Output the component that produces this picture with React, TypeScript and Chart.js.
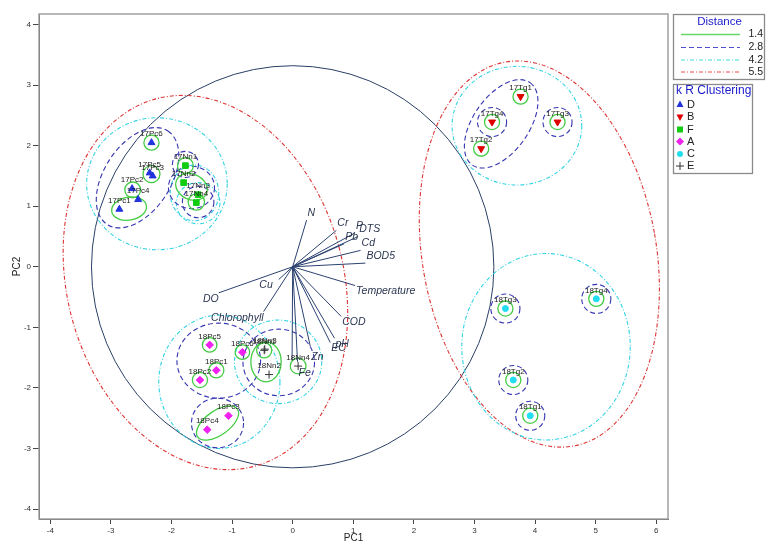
import React, { useEffect, useRef } from 'react';
import { Chart, registerables } from 'chart.js';

Chart.register(...registerables);

// ---------- data ----------
const sampleNames = ['17Pc1','17Pc2','17Pc3','17Pc4','17Pc5','17Pc6','17Nn1','17Nn2','17Nn3','17Nn4','17Tg1','17Tg2','17Tg3','17Tg4','18Pc1','18Pc2','18Pc3','18Pc4','18Pc5','18Pc6','18Nn1','18Nn2','18Nn3','18Nn4','18Tg1','18Tg2','18Tg3','18Tg4'];
const pc1Scores = [-2.86,-2.65,-2.31,-2.55,-2.36,-2.33,-1.77,-1.80,-1.56,-1.59,3.76,3.11,4.37,3.29,-1.26,-1.53,-1.06,-1.41,-1.37,-0.83,-0.47,-0.39,-0.46,0.09,3.92,3.64,3.51,5.01];
const pc2Scores = [0.95,1.29,1.50,1.11,1.55,2.05,1.67,1.39,1.19,1.06,2.81,1.95,2.39,2.39,-1.71,-1.87,-2.46,-2.69,-1.29,-1.41,-1.38,-1.78,-1.36,-1.64,-2.46,-1.87,-0.69,-0.53];
const sampleCluster = ['D','D','D','D','D','D','F','F','F','F','B','B','B','B','A','A','A','A','A','A','E','E','E','E','C','C','C','C'];

const clusterKeys = ['D','B','F','A','C','E'];

const variableNames = ['N','Cr','P','DTS','Pb','Cd','BOD5','Temperature','COD','pH','EC','Zn','Fe','','Cu','DO','Chlorophyll'];
const loadingPC1 = [0.23,0.72,1.03,1.08,0.85,1.12,1.20,1.03,0.80,0.69,0.62,0.29,0.08,-0.01,-0.23,-1.22,-0.48];
const loadingPC2 = [0.77,0.60,0.56,0.50,0.38,0.27,0.06,-0.31,-0.82,-1.18,-1.25,-1.31,-1.57,-1.55,-0.21,-0.43,-0.74];

const correlationRadius = 3.32;

const distanceLevels = ['1.4','2.8','4.2','5.5'];
// cluster contours: [centre PC1, centre PC2, radius PC1, radius PC2, tilt deg]
const contour14 = [
  [-2.33,2.05,0.125,0.125,0],[-2.33,1.53,0.14,0.14,0],[-2.64,1.27,0.13,0.13,0],[-2.70,0.96,0.29,0.19,10],
  [-1.77,1.67,0.13,0.13,0],[-1.67,1.32,0.27,0.21,-25],[-1.59,1.07,0.135,0.135,0],
  [3.76,2.81,0.125,0.125,0],[3.11,1.95,0.125,0.125,0],[4.37,2.39,0.125,0.125,0],[3.29,2.39,0.125,0.125,0],
  [-1.37,-1.29,0.12,0.12,0],[-0.83,-1.41,0.12,0.12,0],[-1.26,-1.71,0.125,0.125,0],[-1.53,-1.87,0.125,0.125,0],
  [-1.24,-2.58,0.40,0.20,35],[-0.47,-1.38,0.125,0.125,0],[-0.44,-1.57,0.25,0.33,0],[0.09,-1.64,0.13,0.13,0],
  [3.92,-2.46,0.125,0.125,0],[3.64,-1.87,0.125,0.125,0],[3.51,-0.69,0.125,0.125,0],[5.01,-0.53,0.125,0.125,0],
];
const contour28 = [
  [-2.56,1.47,0.92,0.55,57],[-1.77,1.69,0.215,0.215,0],[-1.67,1.31,0.38,0.35,0],[-1.56,1.07,0.26,0.26,0],
  [3.44,2.36,0.83,0.46,55],[3.29,2.39,0.24,0.24,0],[4.37,2.39,0.24,0.24,0],
  [-1.22,-1.55,0.69,0.62,0],[-1.24,-2.58,0.43,0.41,0],[-0.23,-1.58,0.59,0.55,0],
  [3.92,-2.46,0.24,0.24,0],[3.64,-1.87,0.24,0.24,0],[3.51,-0.69,0.24,0.24,0],[5.01,-0.53,0.24,0.24,0],
];
const contour42 = [
  [-2.24,1.37,1.16,1.09,0],[-1.62,1.22,0.40,0.46,0],[-1.56,1.05,0.36,0.34,0],[3.70,2.33,1.07,0.98,0],
  [-1.21,-1.90,1.00,1.10,0],[-0.24,-1.57,0.72,0.69,0],[4.18,-1.32,1.39,1.54,0],
];
const contour55 = [
  [-1.44,-0.26,2.28,3.14,15],[4.07,0.21,1.93,3.22,10],
];

const X_MIN = -4.186, X_MAX = 6.193, Y_MIN = -4.165, Y_MAX = 4.174;

// ---------- styles ----------
const FONT = '"Liberation Sans", Arial, sans-serif';
const clusterStyle: Record<string, any> = {
  D: { pointStyle: 'triangle', rotation: 0, color: '#2233dd', radius: 4 },
  B: { pointStyle: 'triangle', rotation: 180, color: '#dd0000', radius: 4 },
  F: { pointStyle: 'rect', rotation: 0, color: '#11cc11', radius: 4 },
  A: { pointStyle: 'rectRot', rotation: 0, color: '#ee22ee', radius: 3.8 },
  C: { pointStyle: 'circle', rotation: 0, color: '#22ddee', radius: 3 },
  E: { pointStyle: 'cross', rotation: 0, color: '#333333', radius: 4 },
};
const levelStyle = [
  { color: '#44cc44', legend: '#66d866', dash: [] as number[], width: 1.3 },
  { color: '#3535b0', legend: '#5050d4', dash: [5, 3], width: 1.1 },
  { color: '#33d3e3', legend: '#40dada', dash: [4, 2, 1, 2], width: 1.1 },
  { color: '#dd3333', legend: '#ee4a4a', dash: [4, 2, 1, 2], width: 1.1 },
];
const contours = [contour14, contour28, contour42, contour55];

function drawMarker(ctx: CanvasRenderingContext2D, key: string, x: number, y: number) {
  const s = clusterStyle[key];
  ctx.save();
  ctx.fillStyle = s.color; ctx.strokeStyle = s.color; ctx.lineWidth = 1;
  ctx.beginPath();
  if (key === 'D') { ctx.moveTo(x, y - 4); ctx.lineTo(x + 3.5, y + 2.5); ctx.lineTo(x - 3.5, y + 2.5); ctx.closePath(); ctx.fill(); }
  else if (key === 'B') { ctx.moveTo(x, y + 4); ctx.lineTo(x + 3.5, y - 2.5); ctx.lineTo(x - 3.5, y - 2.5); ctx.closePath(); ctx.fill(); }
  else if (key === 'F') { ctx.fillRect(x - 3, y - 3, 6, 6); }
  else if (key === 'A') { ctx.moveTo(x, y - 4); ctx.lineTo(x + 4, y); ctx.lineTo(x, y + 4); ctx.lineTo(x - 4, y); ctx.closePath(); ctx.fill(); }
  else if (key === 'C') { ctx.arc(x, y, 3, 0, Math.PI * 2); ctx.fill(); }
  else { ctx.moveTo(x - 4, y); ctx.lineTo(x + 4, y); ctx.moveTo(x, y - 4); ctx.lineTo(x, y + 4); ctx.stroke(); }
  ctx.restore();
}

const overlayPlugin = {
  id: 'biplotOverlay',
  beforeDatasetsDraw(chart: any) {
    const { ctx, chartArea: a, scales } = chart;
    const xs = scales.x, ys = scales.y;
    const sx = Math.abs(xs.getPixelForValue(1) - xs.getPixelForValue(0));
    const sy = Math.abs(ys.getPixelForValue(0) - ys.getPixelForValue(1));
    ctx.save();
    ctx.strokeStyle = '#a0a0a0'; ctx.lineWidth = 1.5;
    ctx.strokeRect(a.left, a.top, a.right - a.left, a.bottom - a.top);
    ctx.beginPath(); ctx.rect(a.left, a.top, a.right - a.left, a.bottom - a.top); ctx.clip();

    // correlation circle
    const ox = xs.getPixelForValue(0), oy = ys.getPixelForValue(0);
    ctx.strokeStyle = '#2b3f66'; ctx.lineWidth = 1; ctx.setLineDash([]);
    ctx.beginPath(); ctx.ellipse(ox, oy, correlationRadius * sx, correlationRadius * sy, 0, 0, Math.PI * 2); ctx.stroke();

    // contours, outermost first
    for (let li = contours.length - 1; li >= 0; li--) {
      const st = levelStyle[li];
      ctx.strokeStyle = st.color; ctx.lineWidth = st.width; ctx.setLineDash(st.dash);
      for (const c of contours[li]) {
        ctx.beginPath();
        ctx.ellipse(xs.getPixelForValue(c[0]), ys.getPixelForValue(c[1]), c[2] * sx, c[3] * sy, -c[4] * Math.PI / 180, 0, Math.PI * 2);
        ctx.stroke();
      }
    }
    ctx.setLineDash([]);

    // loading vectors
    ctx.strokeStyle = '#2b4270'; ctx.lineWidth = 1;
    ctx.font = 'italic 10.5px ' + FONT; ctx.fillStyle = '#2a3550'; ctx.textBaseline = 'middle';
    variableNames.forEach((name, i) => {
      const ex = xs.getPixelForValue(loadingPC1[i]), ey = ys.getPixelForValue(loadingPC2[i]);
      ctx.beginPath(); ctx.moveTo(ox, oy); ctx.lineTo(ex, ey); ctx.stroke();
      if (!name) return;
      const dx = loadingPC1[i], dy = loadingPC2[i];
      const len = Math.hypot(dx, dy);
      const ly = dy > 0 ? ey - 7 : ey + (Math.abs(dx) < 0.35 * len ? 11 : 6);
      if (dx >= 0) { ctx.textAlign = 'left'; ctx.fillText(name, ex + 1, ly); }
      else { ctx.textAlign = 'right'; ctx.fillText(name, ex - (len < 0.5 ? 6 : 0), ly); }
    });
    ctx.restore();
  },
  afterDatasetsDraw(chart: any) {
    const { ctx, scales } = chart;
    ctx.save();
    ctx.font = '8px ' + FONT; ctx.fillStyle = '#222'; ctx.textAlign = 'center'; ctx.textBaseline = 'middle';
    sampleNames.forEach((n, i) => {
      ctx.fillText(n, scales.x.getPixelForValue(pc1Scores[i]), scales.y.getPixelForValue(pc2Scores[i]) - 8.5);
    });
    ctx.restore();
  },
  afterDraw(chart: any) {
    const { ctx, chartArea: a } = chart;
    ctx.save();
    // axis titles
    ctx.fillStyle = '#222'; ctx.font = '10px ' + FONT; ctx.textAlign = 'center'; ctx.textBaseline = 'middle';
    ctx.fillText('PC1', (a.left + a.right) / 2, 538);
    ctx.save(); ctx.translate(17, (a.top + a.bottom) / 2); ctx.rotate(-Math.PI / 2); ctx.fillText('PC2', 0, 0); ctx.restore();

    // legend 1: distance
    ctx.strokeStyle = '#8a8a8a'; ctx.lineWidth = 1.3;
    ctx.strokeRect(673.5, 14.5, 91, 65);
    ctx.fillStyle = '#1a1acc'; ctx.font = '11.5px ' + FONT; ctx.textAlign = 'center';
    ctx.fillText('Distance', 719.5, 21.5);
    const rowY = [34.5, 47.5, 60, 72];
    distanceLevels.forEach((lab, i) => {
      const st = levelStyle[i];
      ctx.strokeStyle = st.legend; ctx.lineWidth = i === 0 ? 1.6 : 1.2; ctx.setLineDash(st.dash);
      ctx.beginPath(); ctx.moveTo(681, rowY[i]); ctx.lineTo(740, rowY[i]); ctx.stroke();
      ctx.setLineDash([]);
      ctx.fillStyle = '#222'; ctx.font = '10.5px ' + FONT; ctx.textAlign = 'right';
      ctx.fillText(lab, 763, rowY[i]);
    });
    // legend 2: clusters
    ctx.strokeStyle = '#8a8a8a'; ctx.lineWidth = 1.3;
    ctx.strokeRect(673.5, 84.5, 79, 89);
    ctx.fillStyle = '#1a1acc'; ctx.font = '12px ' + FONT; ctx.textAlign = 'left';
    ctx.fillText('k R Clustering', 676, 91);
    const cy = [104.5, 117, 129.5, 141.5, 154, 166];
    clusterKeys.forEach((k, i) => {
      drawMarker(ctx, k, 680, cy[i]);
      ctx.fillStyle = '#222'; ctx.font = '11px ' + FONT; ctx.textAlign = 'left';
      ctx.fillText(k, 687, cy[i]);
    });
    ctx.restore();
  },
};

export default function App() {
  const ref = useRef<HTMLCanvasElement>(null);
  useEffect(() => {
    if (!ref.current) return;
    const datasets = clusterKeys.map((k) => {
      const st = clusterStyle[k];
      const pts: { x: number; y: number }[] = [];
      sampleNames.forEach((_, i) => { if (sampleCluster[i] === k) pts.push({ x: pc1Scores[i], y: pc2Scores[i] }); });
      return {
        label: k, data: pts, pointStyle: st.pointStyle, rotation: st.rotation,
        pointRadius: st.radius, backgroundColor: st.color, borderColor: st.color, borderWidth: 1,
        showLine: false,
      };
    });
    const tickFont = { size: 8, family: FONT };
    const chart = new Chart(ref.current, {
      type: 'scatter',
      data: { datasets },
      plugins: [overlayPlugin],
      options: {
        responsive: false, animation: false, events: [],
        layout: { padding: { top: 14, right: 98, left: 0, bottom: 0 } },
        plugins: { legend: { display: false }, tooltip: { enabled: false } },
        scales: {
          x: {
            type: 'linear', min: X_MIN, max: X_MAX,
            afterFit: (s: any) => { s.height = 24; },
            ticks: { stepSize: 1, includeBounds: false, font: tickFont, color: '#333', padding: 2, maxRotation: 0 },
            grid: { drawOnChartArea: false, drawTicks: true, tickLength: 5, color: '#444' },
            border: { display: true, color: '#444' },
          },
          y: {
            type: 'linear', min: Y_MIN, max: Y_MAX,
            afterFit: (s: any) => { s.width = 39; },
            ticks: { stepSize: 1, includeBounds: false, font: tickFont, color: '#333', padding: 2 },
            grid: { drawOnChartArea: false, drawTicks: true, tickLength: 6, color: '#444' },
            border: { display: true, color: '#444' },
          },
        },
      } as any,
    });
    return () => chart.destroy();
  }, []);
  return (
    <div style={{ position: 'fixed', left: 0, top: 0, width: 766, height: 543, background: '#fff' }}>
      <canvas ref={ref} width={766} height={543} />
    </div>
  );
}
